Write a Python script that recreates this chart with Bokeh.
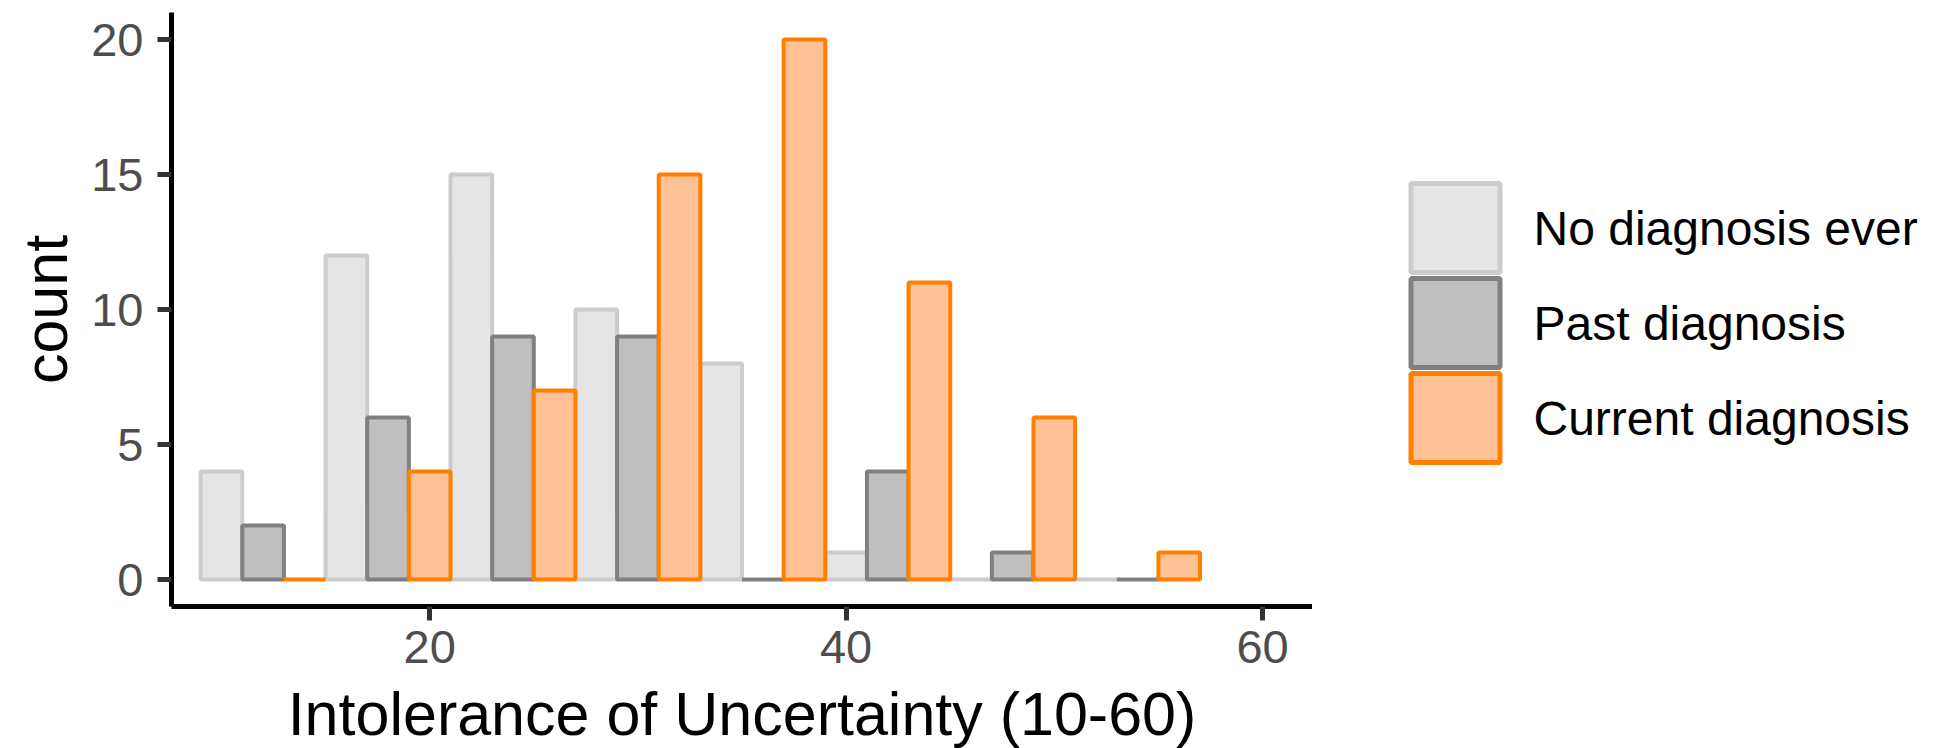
from bokeh.plotting import figure
from bokeh.layouts import row
from bokeh.models import ColumnDataSource, Range1d, FixedTicker
from bokeh.core.properties import value
from bokeh.transform import dodge
from bokeh.embed import file_html
from bokeh.resources import INLINE

# ---- data ----
bin_centers = [12, 18, 24, 30, 36, 42, 48, 54]
no_diagnosis = [4, 12, 15, 10, 8, 1, 0, 0]
past_diagnosis = [2, 6, 9, 9, 0, 4, 1, 0]
current_diagnosis = [0, 4, 7, 15, 20, 11, 6, 1]
group_names = ["No diagnosis ever", "Past diagnosis", "Current diagnosis"]
x_ticks = [20, 40, 60]
y_ticks = [0, 5, 10, 15, 20]

fills = ["#E5E5E5", "#BFBFBF", "#FFC196"]
lines = ["#CCCCCC", "#808080", "#FF8000"]

src = ColumnDataSource(dict(x=bin_centers, no=no_diagnosis, past=past_diagnosis, cur=current_diagnosis))

FONT = "Liberation Sans"
TOP, FRAME_H, BOTTOM = 12, 594, 142

p = figure(frame_width=1141, frame_height=FRAME_H,
           min_border_left=171, min_border_right=0, min_border_top=TOP, min_border_bottom=BOTTOM,
           x_range=Range1d(7.6, 62.4), y_range=Range1d(-1, 21),
           output_backend="svg", toolbar_location=None,
           x_axis_label="Intolerance of Uncertainty (10-60)", y_axis_label="count")

bw = 2.0
for col, off, fill, line in zip(["no", "past", "cur"], [-bw, 0.0, bw], fills, lines):
    p.vbar(x=dodge("x", off, range=p.x_range), top=col, bottom=0, width=bw, source=src,
           fill_color=fill, line_color=line, line_width=4)

p.grid.visible = False
p.outline_line_color = None
p.background_fill_color = "white"
p.border_fill_color = "white"

for ax in (p.xaxis[0], p.yaxis[0]):
    ax.axis_line_width = 5
    ax.axis_line_color = "black"
    ax.major_tick_line_width = 5
    ax.major_tick_line_color = "#333333"
    ax.major_tick_in = 0
    ax.major_tick_out = 14
    ax.minor_tick_line_color = None
    ax.major_label_text_font = FONT
    ax.major_label_text_font_size = "47px"
    ax.major_label_text_color = "#4D4D4D"
    ax.axis_label_text_font = FONT
    ax.axis_label_text_font_size = "61px"
    ax.axis_label_text_font_style = "normal"
    ax.axis_label_text_color = "black"

p.xaxis[0].ticker = FixedTicker(ticks=x_ticks)
p.yaxis[0].ticker = FixedTicker(ticks=y_ticks)
p.xaxis[0].major_label_standoff = 10
p.yaxis[0].major_label_standoff = 14
p.xaxis[0].axis_label_standoff = 14
p.yaxis[0].axis_label_standoff = 8

# ---- legend panel (pixel-space figure to the right of the plot; y = page pixel row) ----
LW = 634
leg = figure(frame_width=LW, frame_height=FRAME_H,
             min_border_left=0, min_border_right=0, min_border_top=TOP, min_border_bottom=BOTTOM,
             x_range=Range1d(0, LW), y_range=Range1d(TOP + FRAME_H, TOP),
             x_axis_location=None, y_axis_location=None,
             output_backend="svg", toolbar_location=None)
leg.grid.visible = False
leg.outline_line_color = None
leg.background_fill_color = "white"
leg.border_fill_color = "white"

key_x0, key_size, key_y0 = 96, 95, 180
n = len(group_names)
lsrc = ColumnDataSource(dict(
    left=[key_x0 + 2.5] * n, right=[key_x0 + key_size - 3.5] * n,
    top=[key_y0 + i * key_size + 3 for i in range(n)],
    bottom=[key_y0 + (i + 1) * key_size - 3 for i in range(n)],
    fill=fills, line=lines, name=group_names,
    tx=[key_x0 + key_size + 30] * n, ty=[key_y0 + (i + 0.5) * key_size for i in range(n)]))
leg.quad(left="left", right="right", top="top", bottom="bottom", source=lsrc,
         fill_color="fill", line_color="line", line_width=5)
leg.text(x="tx", y="ty", text="name", source=lsrc, text_font=value(FONT), text_font_size="48px",
         text_color="black", text_baseline="middle", text_align="left")

open("out.html", "w").write(file_html(row(p, leg), INLINE))
